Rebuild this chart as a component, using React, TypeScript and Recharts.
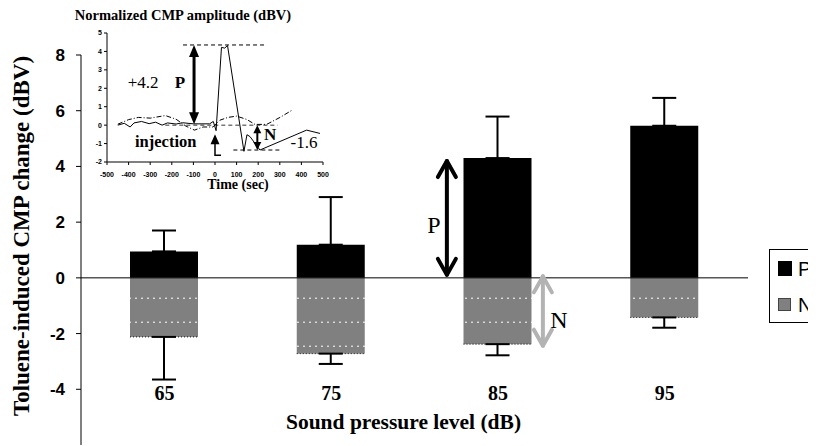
import React from 'react';
import {
  BarChart,
  Bar,
  XAxis,
  YAxis,
  ErrorBar,
  ReferenceLine,
  ReferenceDot,
  LineChart,
  Line,
} from 'recharts';

// main chart: toluene-induced change per sound level
const levels = ['65', '75', '85', '95'];
const pValues = [0.95, 1.19, 4.3, 5.46];
const pErrors = [0.75, 1.71, 1.49, 1.0];
const nValues = [-2.12, -2.72, -2.38, -1.42];
const nErrors = [1.53, 0.37, 0.4, 0.37];
const yTicks = [8, 6, 4, 2, 0, -2, -4];

// inset: normalized CMP amplitude trace (sec, dBV)
const sampleTime = [-450, -420, -393, -375, -340, -305, -275, -245, -220, -180, -150, -100, -25, -8, 5, 30, 45, 58, 134, 148, 162, 208, 424, 486];
const sampleAmp = [0.0, 0.1, -0.1, 0.12, 0.2, 0.08, 0.16, 0.0, 0.12, 0.06, 0.13, 0.07, 0.07, 0.2, -0.3, 4.22, 4.18, 4.32, -1.42, -0.52, -0.62, -1.35, -0.27, -0.45];
const controlTime = [-450, -400, -355, -300, -230, -180, -135, -95, -55, -10, 23, 60, 100, 147, 185, 239, 301, 355];
const controlAmp = [0.05, 0.3, 0.42, 0.38, 0.52, 0.32, -0.05, -0.27, -0.1, -0.1, 0.27, 0.42, 0.49, 0.31, 0.04, 0.04, 0.42, 0.8];
const insetXTicks = [-500, -400, -300, -200, -100, 0, 100, 200, 300, 400, 500];
const insetYTicks = [-2, -1, 0, 1, 2, 3, 4, 5];
const peakLevel = 4.35;
const troughLevel = -1.35;

const barData = levels.map((spl, i) => ({
  spl,
  P: pValues[i],
  N: nValues[i],
  pErr: [0, pErrors[i]],
  nErr: [nErrors[i], 0],
}));
const sampleData = sampleTime.map((t, i) => ({ t, v: sampleAmp[i] }));
const controlData = controlTime.map((t, i) => ({ t, v: controlAmp[i] }));

const SERIF = '"Liberation Serif", "Times New Roman", serif';
const SANS = '"Liberation Sans", Arial, sans-serif';

function NBarShape(props: any) {
  const { x, y, width, height } = props;
  const top = Math.min(y, y + height);
  const h = Math.abs(height);
  return (
    <g>
      <rect x={x} y={top} width={width} height={h} fill="url(#nFill)" />
      <line x1={x} x2={x + width} y1={top + h} y2={top + h} stroke="#111" strokeWidth={1} strokeDasharray="1 2" />
    </g>
  );
}

function CategoryTick({ x, y, payload }: any) {
  return (
    <text x={x} y={y - 45} textAnchor="middle" fontFamily={SERIF} fontWeight="bold" fontSize={20} fill="#000">
      {payload.value}
    </text>
  );
}

function YTitle({ viewBox }: any) {
  const cx = (viewBox?.x ?? 0) + 21;
  const cy = (viewBox?.y ?? 47) + (viewBox?.height ?? 390) / 2 - 14;
  return (
    <text x={cx} y={cy} transform={`rotate(-90 ${cx} ${cy})`} textAnchor="middle" fontFamily={SERIF} fontWeight="bold" fontSize={23} fill="#000">
      Toluene-induced CMP change (dBV)
    </text>
  );
}

function XTitle({ viewBox }: any) {
  const cx = (viewBox?.x ?? 73) + (viewBox?.width ?? 667) / 2 - 11;
  const cy = (viewBox?.y ?? 437) - 16;
  return (
    <text x={cx} y={cy} textAnchor="middle" fontFamily={SERIF} fontWeight="bold" fontSize={21.5} fill="#000">
      Sound pressure level (dB)
    </text>
  );
}

function OpenDoubleArrow(props: any) {
  const { x1, y1, y2, dx, color, w, inset } = props;
  const x = x1 + dx;
  const yA = Math.min(y1, y2) + inset;
  const yB = Math.max(y1, y2) - inset;
  return (
    <g stroke={color} strokeWidth={w} fill="none" strokeLinecap="round" strokeLinejoin="round">
      <line x1={x} x2={x} y1={yA} y2={yB} />
      <polyline points={`${x - 9},${yA + 16} ${x},${yA} ${x + 9},${yA + 16}`} />
      <polyline points={`${x - 9},${yB - 16} ${x},${yB} ${x + 9},${yB - 16}`} />
    </g>
  );
}

function FilledDoubleArrow(props: any) {
  const { x1, y1, y2, w, hw, hh } = props;
  const yA = Math.min(y1, y2);
  const yB = Math.max(y1, y2);
  return (
    <g>
      <line x1={x1} x2={x1} y1={yA + hh - 1} y2={yB - hh + 1} stroke="#000" strokeWidth={w} />
      <polygon points={`${x1},${yA} ${x1 - hw},${yA + hh} ${x1 + hw},${yA + hh}`} fill="#000" />
      <polygon points={`${x1},${yB} ${x1 - hw},${yB - hh} ${x1 + hw},${yB - hh}`} fill="#000" />
    </g>
  );
}

function InjectionArrow(props: any) {
  const { x1, y1, y2 } = props;
  const tip = Math.min(y1, y2);
  const base = Math.max(y1, y2);
  return (
    <g>
      <polyline points={`${x1},${tip + 8} ${x1},${base} ${x1 + 6},${base}`} fill="none" stroke="#000" strokeWidth={1.5} />
      <polygon points={`${x1},${tip} ${x1 - 4.5},${tip + 10} ${x1 + 4.5},${tip + 10}`} fill="#000" />
    </g>
  );
}

const textShape = (label: string, dx: number, size: number, bold: boolean, family = SERIF) =>
  (p: any) => (
    <text x={p.cx + dx} y={p.cy} textAnchor="middle" fontFamily={family} fontSize={size} fontWeight={bold ? 'bold' : 'normal'} fill="#000">
      {label}
    </text>
  );

function InsetTitle({ viewBox }: any) {
  const x = (viewBox?.x ?? 19) + (viewBox?.width ?? 40) + 76;
  const y = (viewBox?.y ?? 25) - 13;
  return (
    <text x={x} y={y} textAnchor="middle" fontFamily={SERIF} fontWeight="bold" fontSize={14.5} fill="#000">
      Normalized CMP amplitude (dBV)
    </text>
  );
}

function TimeTitle({ viewBox }: any) {
  const x = (viewBox?.x ?? 59) + (viewBox?.width ?? 216) / 2 + 23;
  const y = (viewBox?.y ?? 154) + 27;
  return (
    <text x={x} y={y} textAnchor="middle" fontFamily={SERIF} fontWeight="bold" fontSize={14} fill="#000">
      Time (sec)
    </text>
  );
}

const insetTick = { fontSize: 7, fontWeight: 'bold', fontFamily: SANS, fill: '#000' };

export default function App() {
  return (
    <div style={{ position: 'relative', width: 808, height: 438, overflow: 'hidden', background: '#fff' }}>
      <BarChart
        width={808}
        height={438}
        data={barData}
        margin={{ top: 47, right: 68, bottom: 0, left: 0 }}
        barSize={68}
        barGap={-68}
      >
        <defs>
          <pattern id="nFill" patternUnits="userSpaceOnUse" x={0} y={1.7} width={6} height={24}>
            <rect width={6} height={24} fill="#808080" />
            <rect x={1} y={0} width={2} height={1} fill="#ffffff" />
          </pattern>
        </defs>
        <XAxis
          dataKey="spl"
          axisLine={false}
          tickLine={false}
          tickSize={0}
          tickMargin={0}
          height={1}
          interval={0}
          tick={<CategoryTick />}
          label={XTitle}
        />
        <YAxis
          domain={[-6, 8]}
          ticks={yTicks}
          interval={0}
          width={73}
          tickSize={5}
          tickMargin={11}
          stroke="#000"
          tick={{ fontFamily: SANS, fontWeight: 'bold', fontSize: 17, fill: '#000' }}
          label={YTitle}
        />
        <Bar dataKey="P" fill="#000" isAnimationActive={false}>
          <ErrorBar dataKey="pErr" width={12} stroke="#000" strokeWidth={2} />
        </Bar>
        <Bar dataKey="N" fill="#808080" shape={NBarShape} isAnimationActive={false}>
          <ErrorBar dataKey="nErr" width={12} stroke="#000" strokeWidth={2} />
        </Bar>
        <ReferenceLine y={0} stroke="#000" strokeWidth={1} />
        <ReferenceLine
          segment={[{ x: '85', y: 0 }, { x: '85', y: pValues[2] }]}
          shape={(p: any) => <OpenDoubleArrow {...p} dx={-51} color="#000" w={4} inset={3} />}
        />
        <ReferenceLine
          segment={[{ x: '85', y: 0 }, { x: '85', y: nValues[2] }]}
          shape={(p: any) => <OpenDoubleArrow {...p} dx={45} color="#b3b3b3" w={4} inset={-1.5} />}
        />
        <ReferenceDot x="85" y={1.6} r={1} shape={textShape('P', -64, 24, false)} />
        <ReferenceDot x="85" y={-1.81} r={1} shape={textShape('N', 61, 24, false)} />
      </BarChart>

      <div style={{ position: 'absolute', left: 40, top: 0 }}>
        <LineChart width={300} height={190} margin={{ top: 25, right: 25, bottom: 6, left: 19 }}>
          <XAxis
            type="number"
            dataKey="t"
            domain={[-500, 500]}
            ticks={insetXTicks}
            interval={0}
            allowDataOverflow
            height={30}
            tickSize={3}
            tickMargin={7}
            stroke="#000"
            tick={insetTick}
            label={TimeTitle}
          />
          <YAxis
            type="number"
            domain={[-2, 5]}
            ticks={insetYTicks}
            interval={0}
            allowDataOverflow
            width={40}
            tickSize={3}
            tickMargin={2}
            stroke="#000"
            tick={insetTick}
            label={InsetTitle}
          />
          <ReferenceLine segment={[{ x: -230, y: 0 }, { x: 290, y: 0 }]} stroke="#777" strokeWidth={1.5} strokeDasharray="4 3" />
          <ReferenceLine segment={[{ x: -148, y: peakLevel }, { x: 241, y: peakLevel }]} stroke="#000" strokeWidth={1} strokeDasharray="4 3" />
          <ReferenceLine segment={[{ x: 85, y: troughLevel }, { x: 309, y: troughLevel }]} stroke="#000" strokeWidth={1} strokeDasharray="4 3" />
          <Line data={controlData} dataKey="v" type="linear" stroke="#000" strokeWidth={1} strokeDasharray="5 2 1 2" dot={false} isAnimationActive={false} />
          <Line data={sampleData} dataKey="v" type="linear" stroke="#000" strokeWidth={1} dot={false} isAnimationActive={false} />
          <ReferenceLine
            segment={[{ x: -97, y: 0.05 }, { x: -97, y: peakLevel }]}
            shape={(p: any) => <FilledDoubleArrow {...p} w={3} hw={5} hh={12} />}
          />
          <ReferenceLine
            segment={[{ x: 196, y: 0 }, { x: 196, y: troughLevel }]}
            shape={(p: any) => <FilledDoubleArrow {...p} w={2} hw={4} hh={8} />}
          />
          <ReferenceLine
            segment={[{ x: 0, y: -1.63 }, { x: 0, y: -0.49 }]}
            shape={(p: any) => <InjectionArrow {...p} />}
          />
          <ReferenceDot x={-333} y={2.04} r={1} shape={textShape('+4.2', 0, 17, false)} />
          <ReferenceDot x={-162} y={2.04} r={1} shape={textShape('P', 0, 17, true)} />
          <ReferenceDot x={-228} y={-1.18} r={1} shape={textShape('injection', 0, 16.5, true)} />
          <ReferenceDot x={255} y={-0.82} r={1} shape={textShape('N', 0, 17, true)} />
          <ReferenceDot x={412} y={-1.23} r={1} shape={textShape('-1.6', 0, 17, false)} />
        </LineChart>
      </div>

      <div
        style={{
          position: 'absolute',
          left: 761,
          top: 241,
          width: 70,
          height: 72,
          border: '1px solid #000',
          background: '#fff',
          fontFamily: SANS,
          fontSize: 20,
          lineHeight: '20px',
        }}
      >
        <div style={{ position: 'absolute', left: 8, top: 11, width: 14, height: 15, background: '#000' }} />
        <div style={{ position: 'absolute', left: 28, top: 9 }}>P</div>
        <div style={{ position: 'absolute', left: 8, top: 48, width: 11, height: 11, background: '#808080', border: '1px solid #444' }} />
        <div style={{ position: 'absolute', left: 28, top: 45 }}>N</div>
      </div>
    </div>
  );
}
